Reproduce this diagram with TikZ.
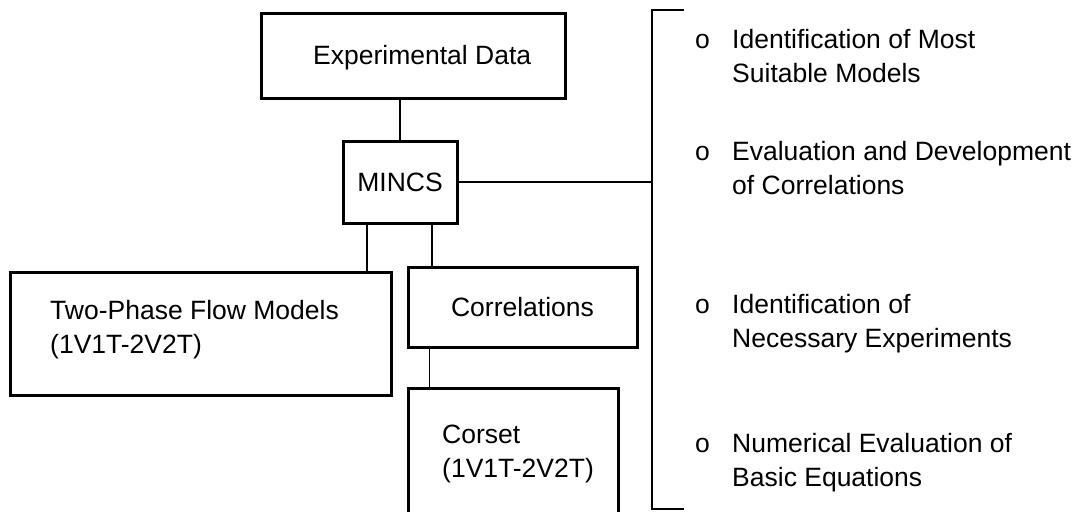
\documentclass[tikz,border=0pt]{standalone}
\usepackage{fontspec}
\setmainfont{Liberation Sans}
\begin{document}
\begin{tikzpicture}[x=1pt,y=-1pt,
  box/.style={draw, line width=3pt, inner sep=0pt, anchor=center,
    font=\fontsize{26.5}{34}\selectfont},
  txt/.style={inner sep=0pt, anchor=base west, align=left,
    font=\fontsize{26.5}{34}\selectfont},
  conn/.style={line width=1.5pt}]
\useasboundingbox (0,0) rectangle (1078,511);
\clip (0,0) rectangle (1078,511);
% boxes
\node[box, minimum width=304pt, minimum height=84pt] (exp) at (413,56) {};
\node[txt] (expt) at (313,65) {Experimental Data};
\node[box, minimum width=114pt, minimum height=82pt] (mincs) at (400,182) {MINCS};
\node[box, minimum width=381pt, minimum height=123pt] (two) at (200.5,333.5) {};
\node[txt] (twot) at (50,353) {Two-Phase Flow Models\\(1V1T-2V2T)};
\node[box, minimum width=229pt, minimum height=80pt] (corr) at (522.5,307) {Correlations};
\node[box, minimum width=210pt, minimum height=152pt] (corset) at (513,464) {};
\node[txt] (corsett) at (442,477) {Corset\\(1V1T-2V2T)};
% connectors
\draw[conn] (mincs.north) -- (mincs.north |- exp.south);
\draw[conn] ([xshift=-33pt]mincs.south) -- ([xshift=-33pt]mincs.south |- two.north);
\draw[conn] ([xshift=32pt]mincs.south) -- ([xshift=32pt]mincs.south |- corr.north);
\draw[conn] ([xshift=23pt]corr.south west) -- ([xshift=23pt]corr.south west |- corset.north);
% bracket
\coordinate (bt) at (652,10);
\coordinate (bb) at (652,509);
\coordinate (btr) at (684,10);
\coordinate (bbr) at (684,509);
\draw[conn] (btr) -- (bt) -- (bb) -- (bbr);
\draw[conn] (mincs.east) -- (mincs.east -| bt);
% list
\node[txt] (l1) at (695,82) {\makebox[37pt][l]{o}Identification of Most\\\hspace*{37pt}Suitable Models};
\node[txt] (l2) at (695,194) {\makebox[37pt][l]{o}Evaluation and Development\\\hspace*{37pt}of Correlations};
\node[txt] (l3) at (695,347) {\makebox[37pt][l]{o}Identification of\\\hspace*{37pt}Necessary Experiments};
\node[txt] (l4) at (695,486) {\makebox[37pt][l]{o}Numerical Evaluation of\\\hspace*{37pt}Basic Equations};
\end{tikzpicture}
\end{document}
